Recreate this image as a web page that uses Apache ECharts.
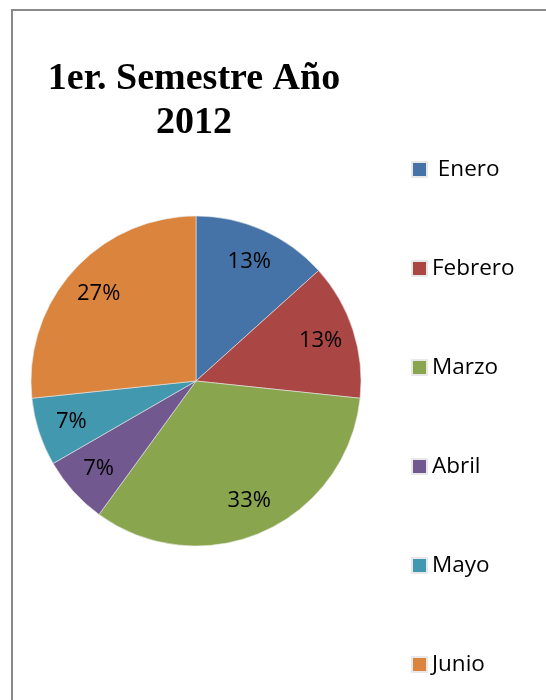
<!DOCTYPE html>
<html>
<head>
<meta charset="utf-8">
<script src="https://cdn.jsdelivr.net/npm/echarts@6/dist/echarts.min.js"></script>
<style>
  html, body { margin: 0; padding: 0; background: #fff; }
  #chart { width: 546px; height: 700px; }
</style>
</head>
<body>
<div id="chart"></div>
<script>
// datos del grafico
const meses = ['Enero', 'Febrero', 'Marzo', 'Abril', 'Mayo', 'Junio']
const valores = [2, 2, 5, 1, 1, 4]
const colores = ['#4573A7', '#AA4644', '#89A54E', '#71588F', '#4298AF', '#DB843D']
const titulo = '1er. Semestre Año\n2012'

const chart = echarts.init(document.getElementById('chart'))

const pieData = meses.map((m, i) => ({ name: m, value: valores[i] }))

const option = {
    animation: false,
    color: colores,
    title: {
        text: titulo,
        left: 194,
        top: 57,
        padding: 0,
        textAlign: 'center',
        textStyle: {
            fontFamily: 'Liberation Serif',
            fontWeight: 'bold',
            fontSize: 38,
            lineHeight: 44,
            color: '#000'
        }
    },
    legend: {
        orient: 'vertical',
        left: 411,
        top: 158,
        padding: 0,
        itemWidth: 15,
        itemHeight: 15,
        itemGap: 76,
        icon: 'rect',
        // "Enero" lleva un espacio delante en el original
        formatter: (name) => name === 'Enero' ? ' ' + name : name,
        textStyle: {
            fontFamily: 'Open Sans',
            fontSize: 22.5,
            lineHeight: 22,
            color: '#000'
        }
    },
    graphic: [
        {
            type: 'rect',
            shape: { x: 12, y: 10, width: 700, height: 900 },
            style: { fill: null, stroke: '#898989', lineWidth: 2 },
            silent: true
        }
    ],
    series: [
        {
            type: 'pie',
            center: [196, 381],
            radius: [0, 165],
            startAngle: 90,
            clockwise: true,
            data: pieData,
            label: { show: false },
            labelLine: { show: false },
            itemStyle: { borderColor: '#e8e8e8', borderWidth: 0.6 },
            silent: true
        },
        {
            // serie transparente solo para colocar las etiquetas mas afuera
            type: 'pie',
            center: [196, 381],
            radius: [0, 256],
            startAngle: 90,
            clockwise: true,
            data: pieData,
            itemStyle: { color: 'rgba(0,0,0,0)' },
            label: {
                show: true,
                position: 'inside',
                formatter: (p) => Math.round(p.percent) + '%',
                fontFamily: 'Open Sans',
                fontSize: 22,
                color: '#000'
            },
            labelLine: { show: false },
            silent: true,
            z: 3
        }
    ]
}

chart.setOption(option)
</script>
</body>
</html>
